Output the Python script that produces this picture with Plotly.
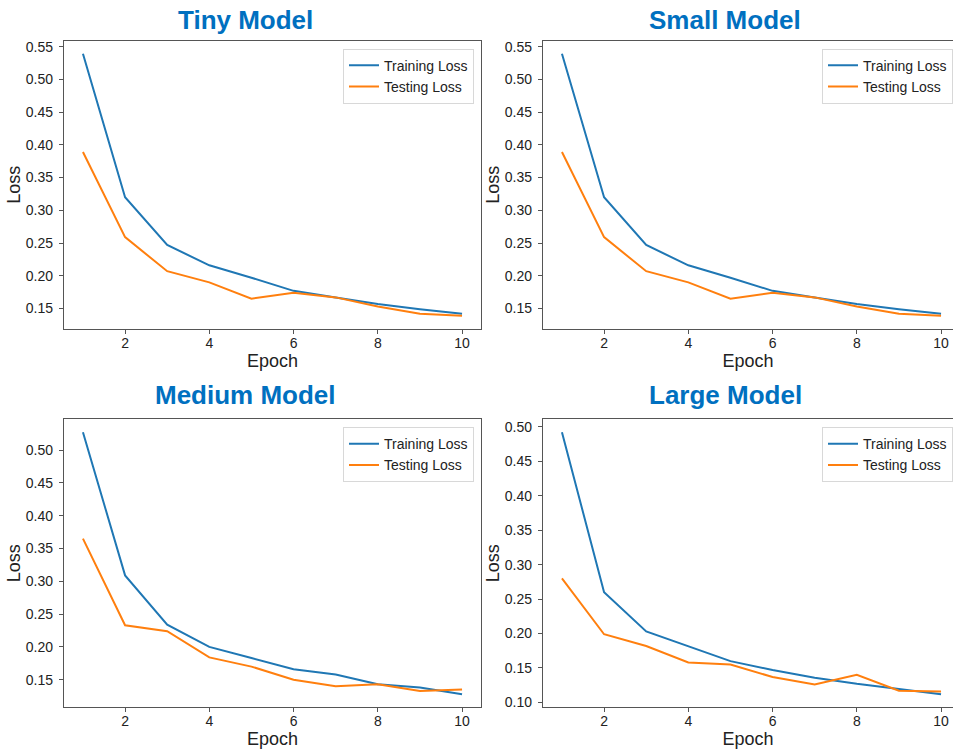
import plotly.graph_objects as go

epochs = [1, 2, 3, 4, 5, 6, 7, 8, 9, 10]
titles = ["Tiny Model", "Small Model", "Medium Model", "Large Model"]

tiny_train = [0.539, 0.320, 0.247, 0.216, 0.197, 0.177, 0.167, 0.157, 0.149, 0.142]
tiny_test = [0.389, 0.259, 0.207, 0.190, 0.165, 0.174, 0.167, 0.153, 0.142, 0.139]
small_train = [0.539, 0.320, 0.247, 0.216, 0.197, 0.177, 0.167, 0.157, 0.149, 0.142]
small_test = [0.389, 0.259, 0.207, 0.190, 0.165, 0.174, 0.167, 0.153, 0.142, 0.139]
medium_train = [0.527, 0.309, 0.234, 0.200, 0.183, 0.166, 0.158, 0.143, 0.138, 0.128]
medium_test = [0.365, 0.233, 0.224, 0.184, 0.170, 0.150, 0.140, 0.143, 0.133, 0.135]
large_train = [0.492, 0.260, 0.203, 0.181, 0.160, 0.147, 0.136, 0.127, 0.119, 0.112]
large_test = [0.280, 0.199, 0.182, 0.158, 0.155, 0.137, 0.126, 0.140, 0.117, 0.116]

trains = [tiny_train, small_train, medium_train, large_train]
tests = [tiny_test, small_test, medium_test, large_test]

W, H = 953, 752
# plot-area pixel boxes (left, right, top, bottom)
boxes = [(64, 481, 39, 329), (543, 960, 39, 329), (64, 481, 420, 710), (543, 960, 420, 710)]
title_pos = [(245, 18), (725, 18), (245, 396), (725, 396)]

FONT = "Liberation Sans, Arial, sans-serif"
BLUE = "#1f77b4"
ORANGE = "#ff7f0e"

fig = go.Figure()
layout = dict(
    width=W, height=H, margin=dict(l=0, r=0, t=0, b=0),
    paper_bgcolor="white", plot_bgcolor="white",
    font=dict(family=FONT, color="#222"),
    showlegend=True, annotations=[],
)

for i in range(4):
    sfx = "" if i == 0 else str(i + 1)
    xa, ya = "x" + sfx, "y" + sfx
    lg = "legend" if i == 0 else "legend" + str(i + 1)
    tr, te = trains[i], tests[i]
    fig.add_trace(go.Scatter(x=epochs, y=tr, mode="lines", name="Training Loss",
                             line=dict(color=BLUE, width=2), xaxis=xa, yaxis=ya, legend=lg))
    fig.add_trace(go.Scatter(x=epochs, y=te, mode="lines", name="Testing Loss",
                             line=dict(color=ORANGE, width=2), xaxis=xa, yaxis=ya, legend=lg))
    lo = min(tr + te)
    hi = max(tr + te)
    pad = (hi - lo) * 0.05
    l, r, t, b = boxes[i]
    xdom = [l / W, min(r / W, 1.0)]
    ydom = [1 - b / H, 1 - t / H]
    cut = r > W
    # right part of the second column is cut by the canvas edge in the reference
    if cut:
        xr = [0.55, 0.55 + (10.45 - 0.55) * (W - l) / (481 - 64)]
    else:
        xr = [0.55, 10.45]
    common = dict(showline=True, linecolor="#555", linewidth=1.3,
                  ticks="outside", ticklen=4, tickcolor="#555", showgrid=False,
                  zeroline=False, tickfont=dict(size=14, family=FONT, color="#222"))
    layout["xaxis" + sfx] = dict(domain=xdom, anchor=ya, range=xr, mirror=True,
                                 tickvals=[2, 4, 6, 8, 10], ticklabelstandoff=-3,
                                 title=dict(text="Epoch", font=dict(size=18, family=FONT, color="#222"), standoff=2),
                                 **common)
    layout["yaxis" + sfx] = dict(domain=ydom, anchor=xa, range=[lo - pad, hi + pad],
                                 mirror=not cut,
                                 dtick=0.05, tick0=0, tickformat=".2f", ticklabelstandoff=3,
                                 title=dict(text="Loss", font=dict(size=18, family=FONT, color="#222"), standoff=0),
                                 **common)
    layout[lg] = dict(x=(min(r, 481 + (l - 64)) - 7) / W, y=1 - (t + 8) / H, xanchor="right", yanchor="top",
                      xref="paper", yref="paper",
                      bgcolor="white", bordercolor="#d8d8d8", borderwidth=1,
                      font=dict(size=14, family=FONT, color="#222"),
                      tracegroupgap=0, itemwidth=30)
    tx, ty = title_pos[i]
    layout["annotations"].append(dict(
        text="<b>" + titles[i] + "</b>", x=tx / W, y=1 - ty / H, xref="paper", yref="paper",
        xanchor="center", yanchor="middle", showarrow=False,
        font=dict(size=26, family=FONT, color="#0070C0")))

fig.update_layout(**layout)
fig.write_html("out.html", config={"displayModeBar": False},
               post_script="document.body.style.margin='0';document.body.style.overflow='hidden';")
